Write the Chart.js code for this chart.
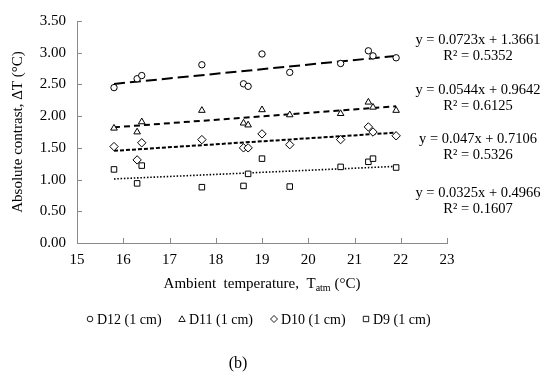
<!DOCTYPE html>
<html>
<head>
<meta charset="utf-8">
<script src="https://cdn.jsdelivr.net/npm/chart.js@4/dist/chart.umd.min.js"></script>
<style>
  html, body { margin: 0; padding: 0; background: #fff; }
  #wrap { width: 550px; height: 376px; position: relative; }
</style>
</head>
<body>
<div id="wrap"><canvas id="chart"></canvas></div>
<script>
const temps = [15.8, 16.3, 16.4, 17.7, 18.6, 18.7, 19.0, 19.6, 20.7, 21.3, 21.4, 21.9]
const d12 = [2.45, 2.59, 2.64, 2.81, 2.51, 2.47, 2.98, 2.69, 2.83, 3.03, 2.95, 2.92]
const d11 = [1.81, 1.75, 1.91, 2.09, 1.89, 1.86, 2.10, 2.02, 2.04, 2.22, 2.14, 2.09]
const d10 = [1.52, 1.31, 1.58, 1.63, 1.50, 1.50, 1.72, 1.55, 1.63, 1.83, 1.75, 1.69]
const d9 = [1.16, 0.94, 1.22, 0.88, 0.90, 1.09, 1.33, 0.89, 1.20, 1.28, 1.33, 1.19]

const seriesNames = ['D12 (1 cm)', 'D11 (1 cm)', 'D10 (1 cm)', 'D9 (1 cm)']
const slopes = [0.0723, 0.0544, 0.047, 0.0325]
const intercepts = [1.3661, 0.9642, 0.7106, 0.4966]
const equations = ['y = 0.0723x + 1.3661', 'y = 0.0544x + 0.9642', 'y = 0.047x + 0.7106', 'y = 0.0325x + 0.4966']
const rSquared = ['R² = 0.5352', 'R² = 0.6125', 'R² = 0.5326', 'R² = 0.1607']

const FONT = '"Liberation Serif", "Times New Roman", serif'
const AXIS = '#8a8a8a'
const markers = ['circle', 'triangle', 'rectRot', 'rect']
const markerSize = [3.2, 3.8, 4.2, 3.9]
const dashes = [[11, 5], [6, 4], [4, 2], [1.5, 1.8]]

const allValues = [d12, d11, d10, d9]

const datasets = []
allValues.forEach((vals, i) => {
  datasets.push({
    type: 'scatter',
    label: seriesNames[i],
    data: temps.map((t, k) => ({ x: t, y: vals[k] })),
    pointStyle: markers[i],
    pointRadius: markerSize[i],
    pointBackgroundColor: '#fff',
    pointBorderColor: '#000',
    pointBorderWidth: 1,
    order: 1
  })
})
allValues.forEach((vals, i) => {
  const x0 = temps[0], x1 = temps[temps.length - 1]
  datasets.push({
    type: 'line',
    label: 'trend ' + seriesNames[i],
    data: [{ x: x0, y: slopes[i] * x0 + intercepts[i] }, { x: x1, y: slopes[i] * x1 + intercepts[i] }],
    borderColor: '#000',
    borderWidth: i === 3 ? 1.6 : 2,
    borderDash: dashes[i],
    pointRadius: 0,
    fill: false,
    order: 2
  })
})

// ticks pointing into the plot area, like the original
const insideTicks = {
  id: 'insideTicks',
  afterDraw(chart) {
    const ctx = chart.ctx
    const xs = chart.scales.x, ys = chart.scales.y
    ctx.save()
    ctx.strokeStyle = AXIS
    ctx.lineWidth = 1
    ctx.beginPath()
    xs.ticks.forEach((t, i) => {
      const px = Math.round(xs.getPixelForTick(i)) + 0.5
      ctx.moveTo(px, xs.top)
      ctx.lineTo(px, xs.top - 5)
    })
    ys.ticks.forEach((t, i) => {
      const py = Math.round(ys.getPixelForTick(i)) + 0.5
      ctx.moveTo(ys.right, py)
      ctx.lineTo(ys.right + 5, py)
    })
    ctx.stroke()
    ctx.restore()
  }
}

const textLayer = {
  id: 'textLayer',
  afterDraw(chart) {
    const ctx = chart.ctx
    const area = chart.chartArea
    ctx.save()
    ctx.fillStyle = '#000'

    // x axis title with subscript
    const cx = (area.left + area.right) / 2
    const parts = [['Ambient  temperature,  T', '15px'], ['atm', '10px'], [' (°C)', '15px']]
    let total = 0
    parts.forEach(p => { ctx.font = p[1] + ' ' + FONT; total += ctx.measureText(p[0]).width })
    let x = cx - total / 2
    ctx.textBaseline = 'alphabetic'
    ctx.textAlign = 'left'
    parts.forEach((p, i) => {
      ctx.font = p[1] + ' ' + FONT
      ctx.fillText(p[0], x, i === 1 ? 291 : 288)
      x += ctx.measureText(p[0]).width
    })

    // regression equations
    ctx.font = '14.5px ' + FONT
    ctx.textAlign = 'center'
    ctx.textBaseline = 'middle'
    const eqY = [40, 90, 139, 193]
    equations.forEach((e, i) => {
      ctx.fillText(e, 478, eqY[i])
      ctx.fillText(rSquared[i], 478, eqY[i] + 16)
    })

    // legend
    const legX = [90, 182, 274, 366]
    const legY = 319
    ctx.textAlign = 'left'
    ctx.font = '14px ' + FONT
    ctx.strokeStyle = '#000'
    ctx.lineWidth = 0.9
    seriesNames.forEach((name, i) => {
      const mx = legX[i]
      ctx.beginPath()
      if (i === 0) {
        ctx.arc(mx, legY, 2.8, 0, Math.PI * 2)
      } else if (i === 1) {
        ctx.moveTo(mx, legY - 3.2); ctx.lineTo(mx + 3.2, legY + 2.5); ctx.lineTo(mx - 3.2, legY + 2.5); ctx.closePath()
      } else if (i === 2) {
        ctx.moveTo(mx, legY - 3.5); ctx.lineTo(mx + 3.5, legY); ctx.lineTo(mx, legY + 3.5); ctx.lineTo(mx - 3.5, legY); ctx.closePath()
      } else {
        ctx.rect(mx - 2.7, legY - 2.7, 5.4, 5.4)
      }
      ctx.stroke()
      ctx.fillText(name, mx + 7, legY + 1)
    })

    // panel caption
    ctx.font = '16px ' + FONT
    ctx.textAlign = 'center'
    ctx.fillText('(b)', 238, 364)
    ctx.restore()
  }
}

new Chart(document.getElementById('chart'), {
  data: { datasets },
  options: {
    responsive: true,
    maintainAspectRatio: false,
    animation: false,
    layout: { padding: { left: 0, top: 21, right: 103, bottom: 0 } },
    plugins: { legend: { display: false }, tooltip: { enabled: false } },
    scales: {
      x: {
        type: 'linear',
        min: 15,
        max: 23,
        ticks: { stepSize: 1, padding: 8, color: '#000', font: { family: FONT, size: 15 } },
        grid: { display: false, drawTicks: false },
        border: { display: true, color: AXIS, width: 1 },
        afterFit(scale) { scale.height = 133 }
      },
      y: {
        min: 0,
        max: 3.5,
        ticks: {
          stepSize: 0.5,
          padding: 11,
          color: '#000',
          font: { family: FONT, size: 15 },
          callback: v => v.toFixed(2)
        },
        grid: { display: false, drawTicks: false },
        border: { display: true, color: AXIS, width: 1 },
        title: {
          display: true,
          text: 'Absolute contrast, ΔT (°C)',
          color: '#000',
          font: { family: FONT, size: 15 },
          padding: { top: 9, bottom: 0 }
        },
        afterFit(scale) { scale.width = 77 }
      }
    }
  },
  plugins: [insideTicks, textLayer]
})
</script>
</body>
</html>
